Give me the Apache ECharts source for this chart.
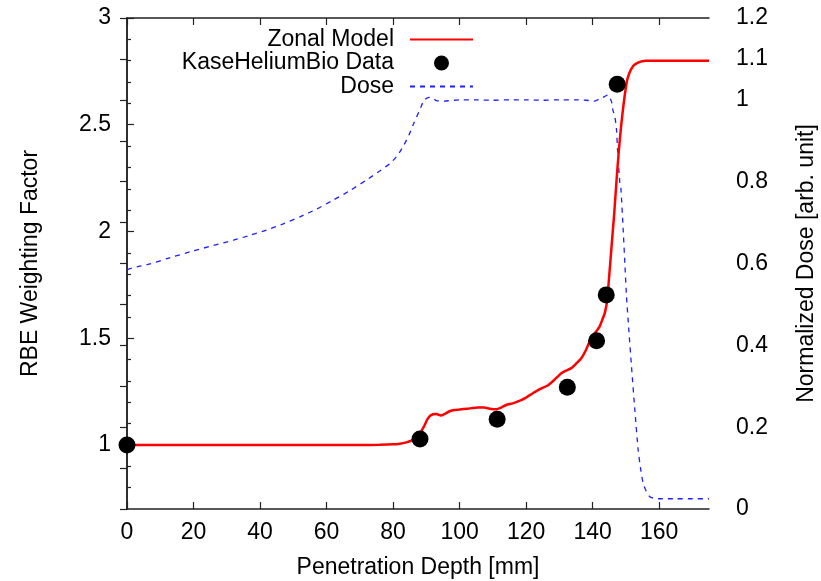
<!DOCTYPE html>
<html>
<head>
<meta charset="utf-8">
<script src="https://cdn.jsdelivr.net/npm/echarts@6/dist/echarts.min.js"></script>
<style>html,body{margin:0;padding:0;background:#fff;}#c{width:821px;height:581px;}</style>
</head>
<body>
<div id="c"></div>
<script>
// ---- data ----
const zonalX = [0,10,20,30,40,50,60,70,76,80,82,84,85.5,86.5,87.5,88.5,89.4,90.3,91.4,93,94.4,95.5,97,98.4,100,102.4,105.5,107.5,109,111,112.5,114,116,118.5,120,122,124,126.6,128.5,130.6,132,133.6,135,136.6,138,139.6,141,142.1,143,143.7,144.4,144.9,145.7,146.5,147.2,147.9,148.9,150.2,151,152.2,153.5,154.7,156,158,160,165,170,175];
const zonalY = [1,1,1,1,1,1,1,1,1.001,1.003,1.006,1.012,1.02,1.03,1.045,1.065,1.09,1.12,1.14,1.145,1.138,1.145,1.158,1.164,1.166,1.17,1.175,1.175,1.17,1.167,1.175,1.187,1.195,1.21,1.222,1.242,1.26,1.28,1.305,1.336,1.348,1.36,1.38,1.406,1.445,1.5,1.53,1.554,1.59,1.62,1.68,1.773,1.93,2.085,2.24,2.38,2.54,2.694,2.74,2.775,2.79,2.797,2.8,2.8,2.8,2.8,2.8,2.8];

const kaseX = [0,88.1,111.3,132.4,141.2,144.1,147.4];
const kaseY = [1.0,1.028,1.12,1.27,1.488,1.703,2.69];

const doseX = [0,3,7,12,20,26,32,37,42,47,52,57,62,67,72,76,79.3,81.5,83.3,85,86.3,88,89.4,90.8,91.9,93,95.4,100,105,110,115,120,125,130,135,138,140.6,142.5,143.6,144.6,145.7,146.1,146.7,147.2,147.5,148.2,148.5,149.2,149.7,150.2,150.9,151.7,152.7,153.7,154.5,155.2,156.2,157.2,158.5,160,165,170,175];
const doseY = [0.585,0.592,0.599,0.612,0.631,0.644,0.657,0.669,0.682,0.697,0.714,0.733,0.755,0.778,0.804,0.826,0.846,0.866,0.89,0.918,0.944,0.975,1.0,1.006,1.005,0.998,0.997,1.0,1.0,0.999,1.0,1.0,0.999,1.0,1.0,0.999,0.997,1.004,1.008,1.012,0.995,0.975,0.959,0.926,0.877,0.796,0.785,0.682,0.60,0.519,0.437,0.348,0.242,0.144,0.095,0.063,0.042,0.030,0.026,0.025,0.025,0.025,0.025];

const xTicks = [0,20,40,60,80,100,120,140,160];
const leftTicks = [1,1.5,2,2.5,3];
const leftMinorTicks = [0.8,0.9,1.1,1.2,1.3,1.4,1.6,1.7,1.8,1.9,2.1,2.2,2.3,2.4,2.6,2.7,2.8,2.9];
const rightLabels = [0,0.2,0.4,0.6,0.8,1,1.1,1.2];
const rightTicks = [0,0.1,0.2,0.3,0.4,0.5,0.6,0.7,0.8,0.9,1,1.1,1.2];

const zip = (a,b) => a.map((v,i)=>[v,b[i]]);

const FONT = 'Liberation Sans';
const FS = 23;
const txtCol = '#000';
const axisCol = '#222';
const chart = echarts.init(document.getElementById('c'), null, {renderer:'canvas'});
chart.setOption({
  animation: false,
  backgroundColor: '#fff',
  textStyle: {fontFamily: FONT},
  grid: {left: 127, right: 112, top: 18, bottom: 72, containLabel: false, outerBoundsMode: 'none'},
  legend: {
    orient: 'vertical', align: 'right', right: 342, top: 23,
    itemWidth: 63, itemHeight: 15, itemGap: 0.5,
    data: [
      {name: 'Zonal Model', itemStyle: {opacity: 0}},
      {name: 'KaseHeliumBio Data'},
      {name: 'Dose', itemStyle: {opacity: 0}}
    ],
    textStyle: {fontFamily: FONT, fontSize: FS, color: txtCol, padding: [0, 11, 0, 0]}
  },
  xAxis: [{
    type: 'value', min: 0, max: 175, position: 'bottom',
    name: 'Penetration Depth [mm]', nameLocation: 'middle', nameGap: 47,
    nameTextStyle: {fontFamily: FONT, fontSize: FS, color: txtCol},
    axisLine: {show: true, lineStyle: {color: axisCol, width: 1.5}},
    axisTick: {inside: true, length: 7, customValues: xTicks, lineStyle: {color: axisCol, width: 1.2}},
    axisLabel: {customValues: xTicks, fontFamily: FONT, fontSize: FS, color: txtCol, margin: 12},
    splitLine: {show: false}
  },{
    type: 'value', min: 0, max: 175, position: 'top',
    axisLine: {show: true, lineStyle: {color: axisCol, width: 1.5}},
    axisTick: {inside: true, length: 7, customValues: xTicks, lineStyle: {color: axisCol, width: 1.2}},
    axisLabel: {show: false}, splitLine: {show: false}
  }],
  yAxis: [{
    type: 'value', min: 0.7, max: 3, position: 'left',
    name: 'RBE Weighting Factor', nameLocation: 'middle', nameGap: 85, nameRotate: 90,
    nameTextStyle: {fontFamily: FONT, fontSize: FS, color: txtCol},
    axisLine: {show: true, lineStyle: {color: axisCol, width: 1.5}},
    axisTick: {inside: true, length: 7, customValues: leftTicks, lineStyle: {color: axisCol, width: 1.2}},
    axisLabel: {customValues: leftTicks, fontFamily: FONT, fontSize: FS, color: txtCol, margin: 16},
    splitLine: {show: false}
  },{
    type: 'value', min: 0, max: 1.2, position: 'right',
    name: 'Normalized Dose [arb. unit]', nameLocation: 'middle', nameGap: 86, nameRotate: 90,
    nameTextStyle: {fontFamily: FONT, fontSize: FS, color: txtCol},
    axisLine: {show: true, lineStyle: {color: axisCol, width: 1.5}},
    axisTick: {inside: true, length: 7, customValues: rightTicks, lineStyle: {color: axisCol, width: 1.2}},
    axisLabel: {customValues: rightLabels, fontFamily: FONT, fontSize: FS, color: txtCol, margin: 27},
    splitLine: {show: false}
  },{
    type: 'value', min: 0.7, max: 3, position: 'left',
    axisLine: {show: false},
    axisTick: {inside: true, length: 4, customValues: leftMinorTicks, lineStyle: {color: axisCol, width: 1.2}},
    axisLabel: {show: false}, splitLine: {show: false}
  }],
  series: [{
    name: 'Dose', type: 'line', xAxisIndex: 0, yAxisIndex: 1, z: 2,
    data: zip(doseX, doseY), symbol: 'none', smooth: 0.2,
    lineStyle: {color: '#1f1fff', width: 1.3, type: [5,5]},
    itemStyle: {color: '#1f1fff'}
  },{
    name: 'Zonal Model', type: 'line', xAxisIndex: 0, yAxisIndex: 0, z: 3,
    data: zip(zonalX, zonalY), symbol: 'none', smooth: 0.2,
    lineStyle: {color: '#ff0000', width: 2.5},
    itemStyle: {color: '#ff0000'}
  },{
    name: 'KaseHeliumBio Data', type: 'scatter', xAxisIndex: 0, yAxisIndex: 0, z: 4,
    data: zip(kaseX, kaseY), symbol: 'circle', symbolSize: 17,
    itemStyle: {color: '#000', opacity: 1}, clip: false
  }]
});
</script>
</body>
</html>
